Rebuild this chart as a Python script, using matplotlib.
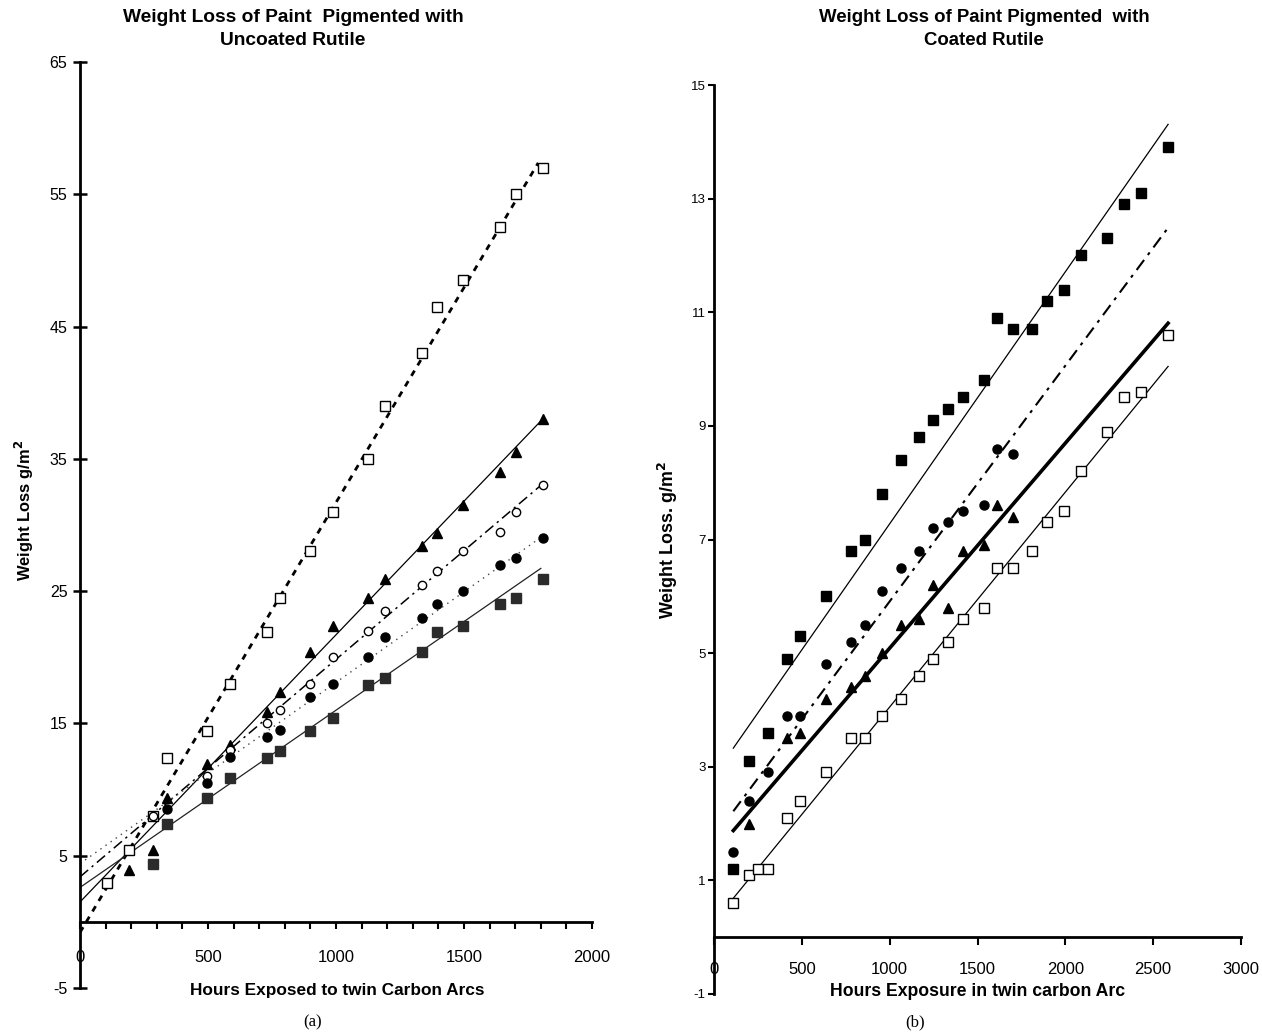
import numpy as np
import matplotlib.pyplot as plt
from matplotlib.ticker import MultipleLocator

plt.rcParams['font.family'] = ['Liberation Sans', 'DejaVu Sans']
plt.rcParams['axes.unicode_minus'] = False

# ---- panel (a): uncoated rutile ----
a_hours_osq = [105, 190, 285, 340, 495, 585, 730, 780, 900, 990, 1125, 1190, 1335, 1395, 1495, 1640, 1705, 1810]
a_loss_osq = [2.9, 5.4, 8.0, 12.4, 14.4, 18.0, 21.9, 24.5, 28.0, 31.0, 35.0, 39.0, 43.0, 46.5, 48.5, 52.5, 55.0, 57.0]
a_hours_tri = [190, 285, 340, 495, 585, 730, 780, 900, 990, 1125, 1190, 1335, 1395, 1495, 1640, 1705, 1810]
a_loss_tri = [3.9, 5.4, 9.4, 11.9, 13.4, 15.9, 17.4, 20.4, 22.4, 24.5, 25.9, 28.4, 29.4, 31.5, 34.0, 35.5, 38.0]
a_hours_ocir = [285, 495, 585, 730, 780, 900, 990, 1125, 1190, 1335, 1395, 1495, 1640, 1705, 1810]
a_loss_ocir = [8.0, 11.0, 13.0, 15.0, 16.0, 18.0, 20.0, 22.0, 23.5, 25.5, 26.5, 28.0, 29.5, 31.0, 33.0]
a_hours_fcir = [340, 495, 585, 730, 780, 900, 990, 1125, 1190, 1335, 1395, 1495, 1640, 1705, 1810]
a_loss_fcir = [8.5, 10.5, 12.5, 14.0, 14.5, 17.0, 18.0, 20.0, 21.5, 23.0, 24.0, 25.0, 27.0, 27.5, 29.0]
a_hours_fsq = [285, 340, 495, 585, 730, 780, 900, 990, 1125, 1190, 1335, 1395, 1495, 1640, 1705, 1810]
a_loss_fsq = [4.4, 7.4, 9.4, 10.9, 12.4, 12.9, 14.4, 15.4, 17.9, 18.4, 20.4, 21.9, 22.4, 24.0, 24.5, 25.9]
# fitted lines: intercept, slope, last hour  (order: osq, tri, ocir, fcir, fsq)
a_fit_b = [-0.8, 1.5, 3.4, 4.4, 2.6]
a_fit_m = [0.0325, 0.0202, 0.01644, 0.0137, 0.0134]
a_fit_end = [1790, 1800, 1800, 1800, 1800]

# ---- panel (b): coated rutile ----
b_hours_fsq = [110, 200, 310, 415, 490, 640, 780, 860, 955, 1065, 1165, 1245, 1330, 1420, 1535, 1610, 1700, 1810, 1895, 1990, 2090, 2240, 2335, 2430, 2585]
b_loss_fsq = [1.2, 3.1, 3.6, 4.9, 5.3, 6.0, 6.8, 7.0, 7.8, 8.4, 8.8, 9.1, 9.3, 9.5, 9.8, 10.9, 10.7, 10.7, 11.2, 11.4, 12.0, 12.3, 12.9, 13.1, 13.9]
b_hours_fcir = [110, 200, 310, 415, 490, 640, 780, 860, 955, 1065, 1165, 1245, 1330, 1420, 1535, 1610, 1700]
b_loss_fcir = [1.5, 2.4, 2.9, 3.9, 3.9, 4.8, 5.2, 5.5, 6.1, 6.5, 6.8, 7.2, 7.3, 7.5, 7.6, 8.6, 8.5]
b_hours_tri = [200, 415, 490, 640, 780, 860, 955, 1065, 1165, 1245, 1330, 1420, 1535, 1610, 1700]
b_loss_tri = [2.0, 3.5, 3.6, 4.2, 4.4, 4.6, 5.0, 5.5, 5.6, 6.2, 5.8, 6.8, 6.9, 7.6, 7.4]
b_hours_osq = [110, 200, 250, 310, 415, 490, 640, 780, 860, 955, 1065, 1165, 1245, 1330, 1420, 1535, 1610, 1700, 1810, 1895, 1990, 2090, 2240, 2335, 2430, 2585]
b_loss_osq = [0.6, 1.1, 1.2, 1.2, 2.1, 2.4, 2.9, 3.5, 3.5, 3.9, 4.2, 4.6, 4.9, 5.2, 5.6, 5.8, 6.5, 6.5, 6.8, 7.3, 7.5, 8.2, 8.9, 9.5, 9.6, 10.6]
# fitted lines (order: fsq, fcir, tri, osq)
b_fit_b = [2.84, 1.76, 1.48, 0.27]
b_fit_m = [0.004436, 0.00415, 0.003608, 0.003782]
b_fit_range = [110, 2585]

W, H = 1262, 1034
fig = plt.figure(figsize=(W / 100, H / 100), dpi=100)

# ---------------- (a) ----------------
ax = fig.add_axes([80 / W, (H - 988) / H, 512 / W, 926 / H])
ax.set_xlim(0, 2000)
ax.set_ylim(-5, 65)
styles_a = [
    dict(color='k', lw=2.0, ls=(0, (2.2, 2.2))),
    dict(color='k', lw=0.9, ls='-'),
    dict(color='k', lw=1.1, ls=(0, (7, 3, 1.5, 3))),
    dict(color='#444444', lw=1.0, ls=(0, (1, 3.5))),
    dict(color='#222222', lw=0.9, ls='-'),
]
for b, m, xe, st in zip(a_fit_b, a_fit_m, a_fit_end, styles_a):
    xx = np.array([0, xe])
    ax.plot(xx, b + m * xx, **st, zorder=2)

ax.plot(a_hours_osq, a_loss_osq, 's', ms=6.5, mfc='white', mec='k', mew=1.0, zorder=3)
ax.plot(a_hours_tri, a_loss_tri, '^', ms=6.5, color='k', zorder=3)
ax.plot(a_hours_ocir, a_loss_ocir, 'o', ms=6, mfc='white', mec='k', mew=1.0, zorder=3)
ax.plot(a_hours_fcir, a_loss_fcir, 'o', ms=6.5, color='k', zorder=3)
ax.plot(a_hours_fsq, a_loss_fsq, 's', ms=7, color='#2b2b2b', zorder=3)

for s in ['top', 'right']:
    ax.spines[s].set_visible(False)
ax.spines['bottom'].set_position(('data', 0))
ax.spines['left'].set_linewidth(2.0)
ax.spines['bottom'].set_linewidth(2.0)
ax.set_yticks(np.arange(-5, 66, 10))
ax.xaxis.set_major_locator(MultipleLocator(500))
ax.xaxis.set_minor_locator(MultipleLocator(100))
ax.tick_params(axis='y', direction='inout', length=10, width=1.8, labelsize=11.5, pad=4)
ax.tick_params(axis='x', which='both', direction='out', length=5, width=1.5, labelsize=12, pad=15)
ax.patch.set_alpha(0)

# ---------------- (b) ----------------
bx = fig.add_axes([714 / W, (H - 994) / H, 527 / W, 909 / H])
bx.set_xlim(0, 3000)
bx.set_ylim(-1, 15)
styles_b = [
    dict(color='k', lw=0.9, ls='-'),
    dict(color='k', lw=1.5, ls=(0, (6, 3, 1.5, 3))),
    dict(color='k', lw=2.6, ls='-'),
    dict(color='k', lw=0.9, ls='-'),
]
xx = np.array(b_fit_range)
for b, m, st in zip(b_fit_b, b_fit_m, styles_b):
    bx.plot(xx, b + m * xx, **st, zorder=2)

bx.plot(b_hours_fsq, b_loss_fsq, 's', ms=7, color='k', zorder=3)
bx.plot(b_hours_fcir, b_loss_fcir, 'o', ms=6.5, color='k', zorder=3)
bx.plot(b_hours_tri, b_loss_tri, '^', ms=6.5, color='k', zorder=3)
bx.plot(b_hours_osq, b_loss_osq, 's', ms=7, mfc='white', mec='k', mew=1.0, zorder=3)

for s in ['top', 'right']:
    bx.spines[s].set_visible(False)
bx.spines['bottom'].set_position(('data', 0))
bx.spines['left'].set_linewidth(2.0)
bx.spines['bottom'].set_linewidth(2.0)
bx.set_yticks(np.arange(-1, 16, 2))
bx.set_xticks(np.arange(0, 3001, 500))
bx.tick_params(axis='y', direction='out', length=4, width=1.5, labelsize=9.5, pad=2)
bx.tick_params(axis='x', direction='out', length=6, width=1.5, labelsize=12, pad=12)
bx.patch.set_alpha(0)

# ---------------- texts ----------------
fig.text(293, H - 29, 'Weight Loss of Paint  Pigmented with\nUncoated Rutile', transform=None,
         ha='center', va='center', fontsize=13.8, fontweight='bold', linespacing=1.45)
fig.text(984, H - 29, 'Weight Loss of Paint Pigmented  with\nCoated Rutile', transform=None,
         ha='center', va='center', fontsize=13.4, fontweight='bold', linespacing=1.45)
fig.text(337, H - 991, 'Hours Exposed to twin Carbon Arcs', transform=None,
         ha='center', va='center', fontsize=12.4, fontweight='bold')
fig.text(978, H - 992, 'Hours Exposure in twin carbon Arc', transform=None,
         ha='center', va='center', fontsize=12.7, fontweight='bold')
fig.text(24, H - 510, 'Weight Loss g/m$^{\\mathbf{2}}$', transform=None, rotation=90,
         ha='center', va='center', fontsize=11.9, fontweight='bold')
fig.text(668, H - 540, 'Weight Loss. g/m$^{\\mathbf{2}}$', transform=None, rotation=90,
         ha='center', va='center', fontsize=12.9, fontweight='bold')
fig.text(313, H - 1022, '(a)', transform=None, ha='center', va='center',
         fontsize=12, family='Liberation Serif')
fig.text(915, H - 1022, '(b)', transform=None, ha='center', va='center',
         fontsize=12, family='Liberation Serif')

fig.savefig('out.png', dpi=100)
